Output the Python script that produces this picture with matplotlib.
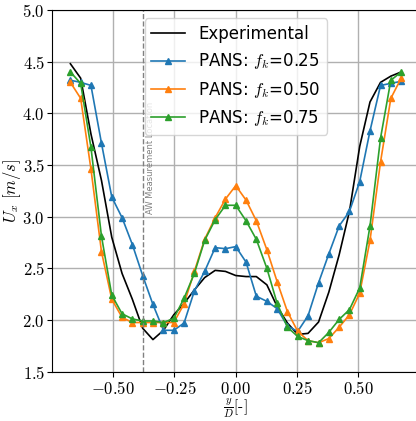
import matplotlib
matplotlib.use("Agg")
import matplotlib.pyplot as plt
from matplotlib.ticker import FuncFormatter

plt.rcParams['mathtext.fontset'] = 'cm'
plt.rcParams['font.family'] = 'DejaVu Sans'

# y/D positions of the samples
y_d = [-0.675, -0.633, -0.591, -0.548, -0.506, -0.464, -0.422, -0.380, -0.338,
       -0.295, -0.253, -0.211, -0.169, -0.127, -0.084, -0.042, 0.000, 0.042,
       0.084, 0.127, 0.169, 0.211, 0.253, 0.295, 0.338, 0.380, 0.422, 0.464,
       0.506, 0.548, 0.591, 0.633, 0.675]

exp_ux = [4.48, 4.34, 3.80, 3.35, 2.80, 2.45, 2.20, 1.92, 1.81, 1.90, 2.05,
          2.16, 2.29, 2.41, 2.48, 2.47, 2.43, 2.42, 2.42, 2.34, 2.13, 1.97,
          1.86, 1.87, 1.98, 2.27, 2.63, 3.05, 3.68, 4.11, 4.30, 4.36, 4.40]

pans_025 = [4.32, 4.30, 4.27, 3.71, 3.19, 2.99, 2.73, 2.43, 2.15, 1.90, 1.90,
            1.97, 2.28, 2.47, 2.70, 2.69, 2.71, 2.56, 2.23, 2.18, 2.11, 1.94,
            1.89, 2.04, 2.36, 2.64, 2.91, 3.05, 3.34, 3.83, 4.27, 4.29, 4.31]

pans_050 = [4.30, 4.145, 3.46, 2.66, 2.20, 2.025, 1.975, 1.975, 1.975, 1.975,
            1.975, 2.155, 2.47, 2.78, 2.99, 3.17, 3.30, 3.16, 2.96, 2.68, 2.37,
            2.08, 1.89, 1.80, 1.78, 1.82, 1.93, 2.05, 2.26, 2.77, 3.53, 4.145, 4.34]

pans_075 = [4.40, 4.29, 3.67, 2.81, 2.24, 2.06, 2.01, 1.99, 1.99, 1.975, 2.015,
            2.21, 2.45, 2.77, 2.97, 3.11, 3.11, 2.96, 2.78, 2.50, 2.16, 1.93,
            1.84, 1.80, 1.78, 1.88, 2.005, 2.10, 2.31, 2.91, 3.76, 4.32, 4.40]

aw_location = -0.38

fig = plt.figure(figsize=(4.16, 4.21), dpi=100)
ax = fig.add_axes([0.125, 0.1173, 0.8834, 0.8589])

ax.plot(y_d, exp_ux, color='black', lw=1.2, label='Experimental')
ax.plot(y_d, pans_025, color='#1f77b4', marker='^', ms=5, lw=1.2, label=r'PANS: $f_k$=0.25')
ax.plot(y_d, pans_050, color='#ff7f0e', marker='^', ms=5, lw=1.2, label=r'PANS: $f_k$=0.50')
ax.plot(y_d, pans_075, color='#2ca02c', marker='^', ms=5, lw=1.2, label=r'PANS: $f_k$=0.75')

ax.axvline(aw_location, color='gray', ls='--', lw=1.0)
ax.text(aw_location + 0.012, 3.57, 'AW Measurement Location', rotation=90,
        fontsize=6, color='gray', ha='left', va='center')

ax.set_xlim(-0.75, 0.75)
ax.set_ylim(1.5, 5.0)
ax.set_xticks([-0.5, -0.25, 0.0, 0.25, 0.5])
ax.set_yticks([1.5, 2.0, 2.5, 3.0, 3.5, 4.0, 4.5, 5.0])
ax.xaxis.set_major_formatter(FuncFormatter(lambda v, p: '$%.2f$' % v))
ax.yaxis.set_major_formatter(FuncFormatter(lambda v, p: '$%.1f$' % v))
ax.tick_params(labelsize=12)
ax.tick_params(axis='y', pad=1.5)
ax.tick_params(axis='x', pad=2.5)
ax.grid(True, color='#b0b0b0', lw=1.0)

ax.set_xlabel(r'$\frac{y}{D}$[-]', fontsize=11, family='cmr10')
ax.set_ylabel(r'$U_x$ $[m/s]$', fontsize=12)
ax.xaxis.set_label_coords(0.5, -0.069)
ax.yaxis.set_label_coords(-0.08, 0.5)

ax.legend(loc='upper center', fontsize=12)

fig.savefig('out.png', dpi=100)
